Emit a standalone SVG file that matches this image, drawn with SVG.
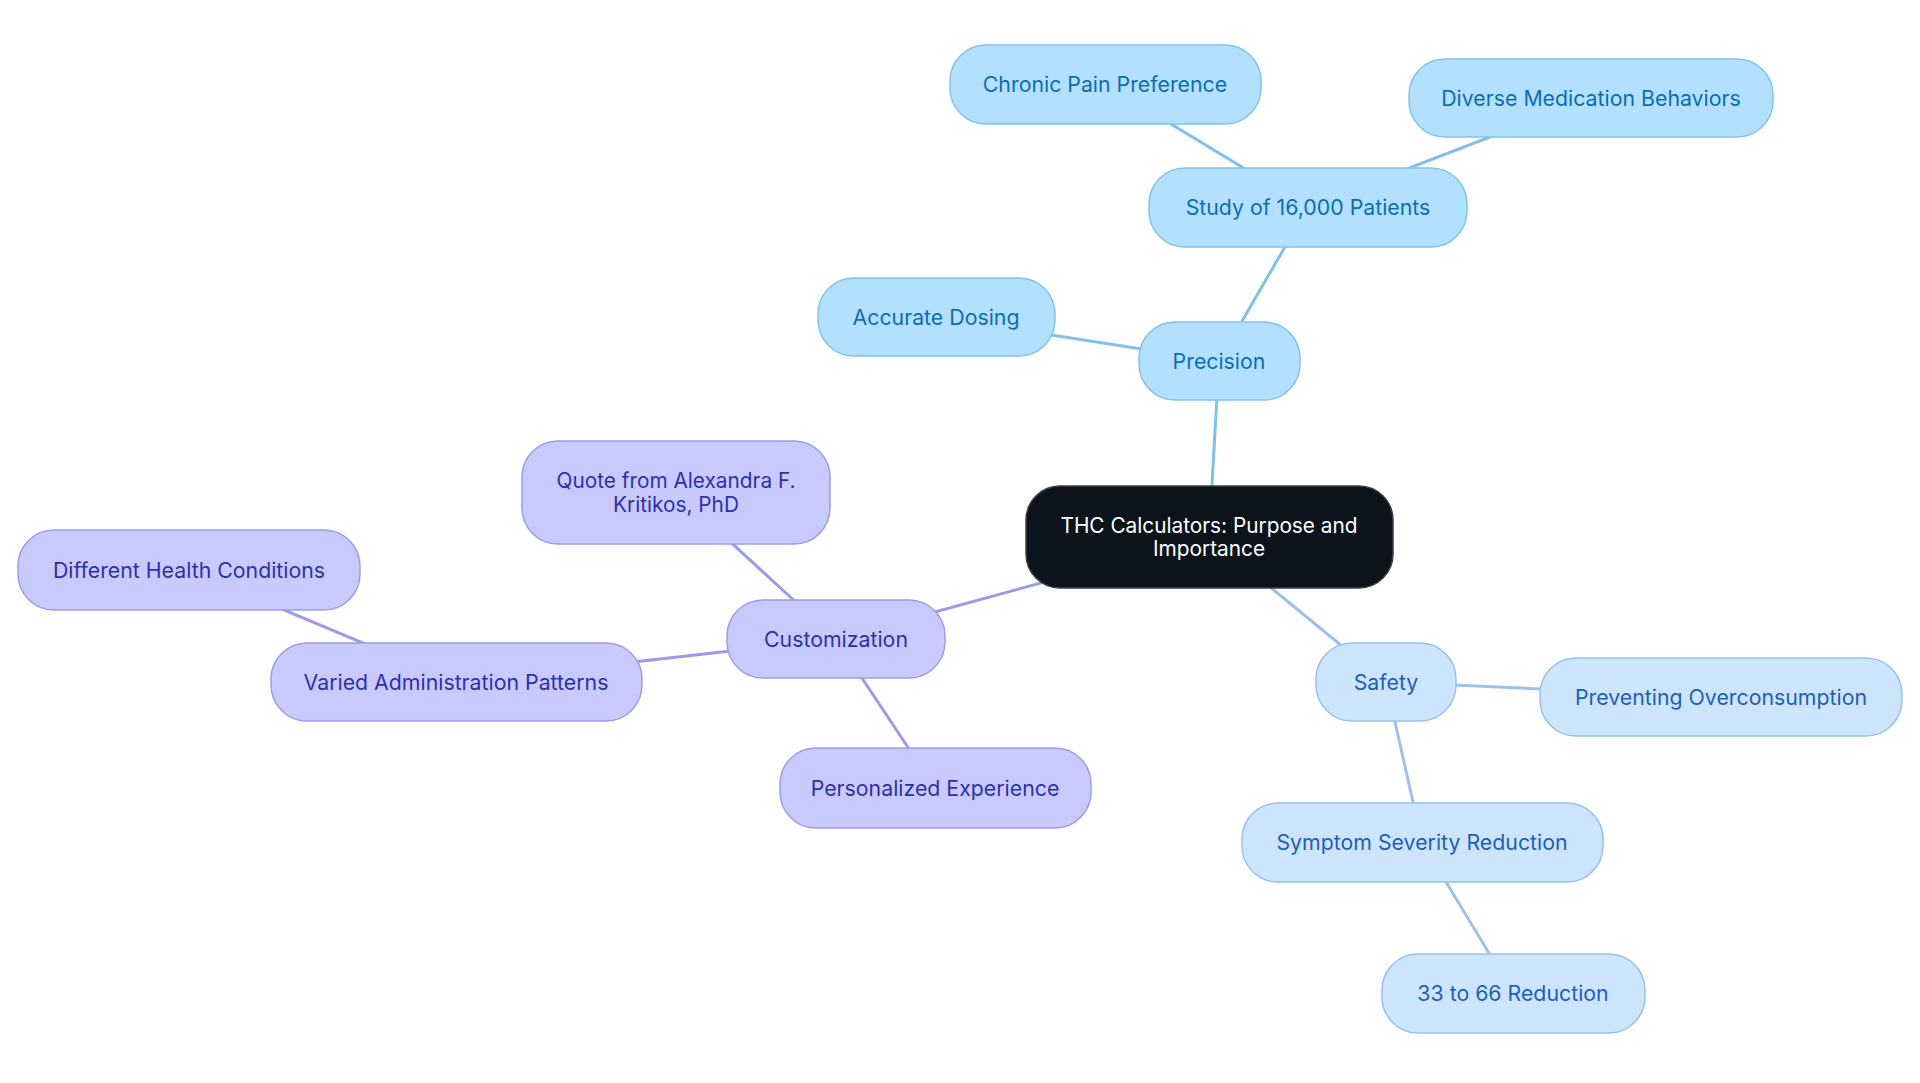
<svg xmlns="http://www.w3.org/2000/svg" width="1920" height="1083" viewBox="0 0 1920 1083">
<style>
text{font-family:Inter,"Noto Sans","Liberation Sans",sans-serif;font-size:21.3px;text-anchor:middle;dominant-baseline:central}
.c line{stroke-width:3;stroke-linecap:round}
.lp{stroke:#80c0ea}
.ls{stroke:#9cc2ec}
.lc{stroke:#9b9be6}
.root rect{fill:#0c131b;stroke:#3a4048;stroke-width:1.5}
.root text{fill:#ffffff;font-size:20.8px}
.p rect{fill:#b3e0fe;stroke:#80c2ee;stroke-width:1.5}
.p text{fill:#0b6db3}
.s rect{fill:#cce5fc;stroke:#98c0ee;stroke-width:1.5}
.s text{fill:#1e5fb6}
.m rect{fill:#c8cafd;stroke:#9a9dea;stroke-width:1.5}
.m text{fill:#2e30aa}
.q text{font-size:20.8px}
</style>
<rect width="1920" height="1083" fill="#ffffff"/>
<g id="connectors" class="c">
<line class="lp" x1="1209" y1="537" x2="1219" y2="361"/>
<line class="lp" x1="1219" y1="361" x2="1308" y2="207"/>
<line class="lp" x1="1308" y1="207" x2="1105" y2="84"/>
<line class="lp" x1="1308" y1="207" x2="1591" y2="98"/>
<line class="lp" x1="1219" y1="361" x2="936" y2="317"/>
<line class="lc" x1="1209" y1="537" x2="836" y2="639"/>
<line class="lc" x1="836" y1="639" x2="676" y2="492"/>
<line class="lc" x1="836" y1="639" x2="456" y2="682"/>
<line class="lc" x1="456" y1="682" x2="189" y2="570"/>
<line class="lc" x1="836" y1="639" x2="935" y2="788"/>
<line class="ls" x1="1209" y1="537" x2="1386" y2="682"/>
<line class="ls" x1="1386" y1="682" x2="1721" y2="697"/>
<line class="ls" x1="1386" y1="682" x2="1422" y2="842"/>
<line class="ls" x1="1422" y1="842" x2="1513" y2="993"/>
</g>
<g id="root" class="root"><rect x="1026" y="486" width="367" height="102" rx="34"/><text x="1209" y="525">THC Calculators: Purpose and</text><text x="1209" y="548">Importance</text></g>
<g id="precision" class="p"><rect x="1139" y="322" width="161" height="78" rx="36"/><text x="1219" y="361">Precision</text></g>
<g id="study" class="p"><rect x="1149" y="168" width="318" height="79" rx="36"/><text x="1308" y="207">Study of 16,000 Patients</text></g>
<g id="chronic" class="p"><rect x="950" y="45" width="311" height="79" rx="36"/><text x="1105" y="84">Chronic Pain Preference</text></g>
<g id="diverse" class="p"><rect x="1409" y="59" width="364" height="78" rx="36"/><text x="1591" y="98">Diverse Medication Behaviors</text></g>
<g id="accurate" class="p"><rect x="818" y="278" width="237" height="78" rx="36"/><text x="936" y="317">Accurate Dosing</text></g>
<g id="customization" class="m"><rect x="727" y="600" width="218" height="78" rx="36"/><text x="836" y="639">Customization</text></g>
<g id="quote" class="m q"><rect x="522" y="441" width="308" height="103" rx="36"/><text x="676" y="480">Quote from Alexandra F.</text><text x="676" y="504">Kritikos, PhD</text></g>
<g id="different" class="m"><rect x="18" y="530" width="342" height="80" rx="36"/><text x="189" y="570">Different Health Conditions</text></g>
<g id="varied" class="m"><rect x="271" y="643" width="371" height="78" rx="36"/><text x="456" y="682">Varied Administration Patterns</text></g>
<g id="personalized" class="m"><rect x="780" y="748" width="311" height="80" rx="36"/><text x="935" y="788">Personalized Experience</text></g>
<g id="safety" class="s"><rect x="1316" y="643" width="140" height="78" rx="36"/><text x="1386" y="682">Safety</text></g>
<g id="preventing" class="s"><rect x="1540" y="658" width="362" height="78" rx="36"/><text x="1721" y="697">Preventing Overconsumption</text></g>
<g id="symptom" class="s"><rect x="1242" y="803" width="361" height="79" rx="36"/><text x="1422" y="842">Symptom Severity Reduction</text></g>
<g id="reduction" class="s"><rect x="1382" y="954" width="263" height="79" rx="36"/><text x="1513" y="993">33 to 66 Reduction</text></g>
</svg>
